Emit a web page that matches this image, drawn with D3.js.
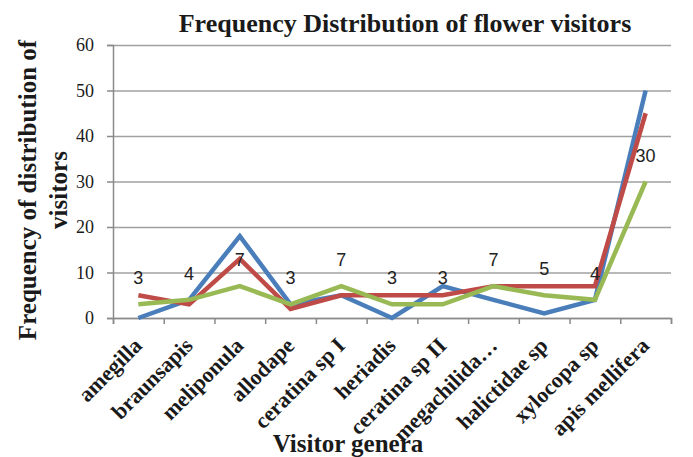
<!DOCTYPE html>
<html>
<head>
  <meta charset="utf-8">
  <title>Frequency Distribution of flower visitors</title>
  <style>
    body {
      margin: 0;
      background: #fff;
    }
    svg {
      display: block;
    }
    .title, .axis-title, .x-label {
      font-family: "Liberation Serif", "Times New Roman", serif;
      font-weight: bold;
      fill: #1a1a1a;
    }
    .grid line {
      stroke: #a0a0a0;
      stroke-width: 1.5;
    }
    .grid path {
      display: none;
    }
    .data-label {
      font-family: "Liberation Sans", Arial, sans-serif;
      font-size: 18px;
      fill: #222;
      text-anchor: middle;
    }
    .line {
      fill: none;
      stroke-width: 4.5;
      stroke-linejoin: miter;
    }
  </style>
</head>
<body>
<script src="https://d3js.org/d3.v7.min.js"></script>
<script>
  const categories = ["amegilla", "braunsapis", "meliponula", "allodape", "ceratina sp I",
    "heriadis", "ceratina sp II", "megachilida…", "halictidae sp", "xylocopa sp", "apis mellifera"];
  const seriesBlue = [0, 4, 18, 3, 5, 0, 7, 4, 1, 4, 50];
  const seriesRed = [5, 3, 13, 2, 5, 5, 5, 7, 7, 7, 45];
  const seriesGreen = [3, 4, 7, 3, 7, 3, 3, 7, 5, 4, 30];
  const yTicks = [0, 10, 20, 30, 40, 50, 60];

  const series = [
    { values: seriesBlue, color: "#4a7ebb" },
    { values: seriesRed, color: "#be4b48" },
    { values: seriesGreen, color: "#98b954" }
  ];

  const width = 693;
  const height = 457;
  const margin = { top: 45, right: 22, bottom: 139, left: 113 };
  const innerWidth = width - margin.left - margin.right;
  const innerHeight = height - margin.top - margin.bottom;

  const svg = d3.select("body")
    .append("svg")
    .attr("width", width)
    .attr("height", height);

  const g = svg.append("g")
    .attr("transform", `translate(${margin.left},${margin.top})`);

  const x = d3.scaleBand()
    .domain(categories)
    .range([0, innerWidth])
    .padding(0);

  const xEdge = d3.scaleLinear()
    .domain([0, categories.length])
    .range([0, innerWidth]);

  const y = d3.scaleLinear()
    .domain([0, 60])
    .range([innerHeight, 0]);

  const cx = d => x(d) + x.bandwidth() / 2;

  // gridlines
  g.append("g")
    .attr("class", "grid")
    .call(d3.axisLeft(y).tickValues(yTicks).tickSize(-innerWidth).tickFormat(""));

  // y axis
  const yAxis = g.append("g")
    .call(d3.axisLeft(y).tickValues(yTicks).tickSize(6).tickPadding(13));
  yAxis.selectAll("text")
    .style("font-family", "'Liberation Serif', 'Times New Roman', serif")
    .style("font-size", "18px")
    .attr("fill", "#1a1a1a");
  yAxis.select(".domain").attr("stroke", "#8a8a8a").attr("stroke-width", 1.5);
  yAxis.selectAll(".tick line").attr("stroke", "#8a8a8a").attr("stroke-width", 1.5);

  // x axis tick marks at category boundaries
  const xAxis = g.append("g")
    .attr("transform", `translate(0,${innerHeight})`)
    .call(d3.axisBottom(xEdge).tickValues(d3.range(categories.length + 1)).tickSize(6).tickFormat(""));
  xAxis.select(".domain").attr("stroke", "#8a8a8a").attr("stroke-width", 1.5);
  xAxis.selectAll(".tick line").attr("stroke", "#8a8a8a").attr("stroke-width", 1.5);

  // rotated category labels
  g.selectAll(".x-label")
    .data(categories)
    .enter()
    .append("text")
    .attr("class", "x-label")
    .attr("font-size", 22)
    .attr("text-anchor", "end")
    .attr("transform", d => `translate(${cx(d) + 5},${innerHeight + 29}) rotate(-45)`)
    .text(d => d);

  // lines
  const line = d3.line()
    .x((d, i) => cx(categories[i]))
    .y(d => y(d));

  g.selectAll(".line")
    .data(series)
    .enter()
    .append("path")
    .attr("class", "line")
    .attr("stroke", d => d.color)
    .attr("d", d => line(d.values));

  // data labels (third series)
  g.selectAll(".data-label")
    .data(seriesGreen)
    .enter()
    .append("text")
    .attr("class", "data-label")
    .attr("x", (d, i) => cx(categories[i]))
    .attr("y", d => y(d) - 20)
    .text(d => d);

  // titles
  svg.append("text")
    .attr("class", "title")
    .attr("font-size", 26)
    .attr("text-anchor", "middle")
    .attr("x", 405)
    .attr("y", 32)
    .text("Frequency Distribution of flower visitors");

  svg.append("text")
    .attr("class", "axis-title")
    .attr("font-size", 25)
    .attr("text-anchor", "middle")
    .attr("x", 348)
    .attr("y", 452)
    .text("Visitor genera");

  const yTitle = ["Frequency of distribution of", "visitors"];
  svg.selectAll(".y-title")
    .data(yTitle)
    .enter()
    .append("text")
    .attr("class", "axis-title y-title")
    .attr("font-size", 25)
    .attr("text-anchor", "middle")
    .attr("transform", (d, i) => `translate(${36 + i * 31},190) rotate(-90)`)
    .text(d => d);
</script>
</body>
</html>
